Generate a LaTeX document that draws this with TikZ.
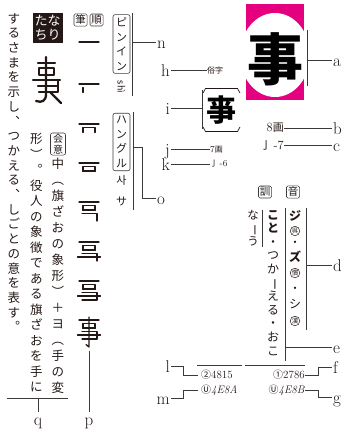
\documentclass[tikz,border=0pt]{standalone}
\usepackage{fontspec}
\usepackage{graphicx}
\newfontfamily\jp{Noto Sans CJK JP}
\definecolor{ink}{HTML}{231815}
\definecolor{mag}{HTML}{E4007F}
\definecolor{ln}{HTML}{3A3A3A}
\newcommand\vbar{\rotatebox[origin=c]{-90}{ー}}
\tikzset{
  lbl/.style={font=\fontsize{17}{17}\selectfont, text height=12pt, text depth=0pt, inner sep=1pt, text=ink},
  conn/.style={draw=ln, line width=0.75pt},
  vcol/.style={align=center, inner sep=0pt, anchor=north, text=ink},
  tag/.style={draw=ln, line width=0.6pt, rounded corners=1.5pt, inner sep=1.3pt, text=ink, font=\jp\fontsize{10.5}{10.5}\selectfont},
  vtag/.style={draw=ln, line width=0.6pt, rounded corners=2pt, inner xsep=3pt, inner ysep=3pt, text=ink, align=center},
  stk/.style={line width=1.3pt, line cap=round, line join=round, draw=ink},
  seal/.style={line width=2.3pt, line cap=round, line join=round, draw=ink},
  circ/.style={circle, draw=ink, line width=0.5pt, inner sep=0.3pt, text=ink, font=\jp\fontsize{6.5}{6.5}\selectfont},
  small/.style={inner sep=0pt, text=ink},
  brk/.style={line width=0.7pt, draw=ink},
}
\newcommand\StrokeStep[3]{%
  \begin{scope}[shift={(#1,#2)}]
    \draw[stk] (-10,0) -- (10,0);
    \ifnum#3>1 \draw[stk] (-6,3.5) -- (-6,8.5);\fi
    \ifnum#3>2 \draw[stk] (-6,3.5) -- (6,3.5) -- (6,8.5);\fi
    \ifnum#3>3 \draw[stk] (-6,8) -- (6,8);\fi
    \ifnum#3>4 \draw[stk] (-7,11.5) -- (8,11.5) -- (8,19);\fi
    \ifnum#3>5 \draw[stk] (-11.5,15) -- (11.5,15);\fi
    \ifnum#3>6 \draw[stk] (-7,19) -- (8,19);\fi
    \ifnum#3>7 \draw[stk] (0,-3) -- (0,27) -- (-3,24.5);\fi
  \end{scope}}
\begin{document}
\begin{tikzpicture}[x=1pt,y=-1pt]
\useasboundingbox (0,0) rectangle (349,440);

% ---------- big character ----------
\begin{scope}
  \clip (246,4) rectangle (304,100);
  \fill[mag] (246,4) rectangle (304,100);
  \fill[white] (275,55) ellipse [x radius=35, y radius=42];
\end{scope}
\node[inner sep=0pt, text=black, font=\jp\bfseries\fontsize{56}{56}\selectfont] (big) at (275,59) {事};

% ---------- letters ----------
\node[lbl, anchor=west] (a) at (332,60) {a};
\node[lbl, anchor=west] (b) at (332,128) {b};
\node[lbl, anchor=west] (c) at (332,145) {c};
\node[lbl, anchor=west] (d) at (332,265) {d};
\node[lbl, anchor=west] (e) at (332,347) {e};
\node[lbl, anchor=west] (f) at (332,367) {f};
\node[lbl, anchor=west] (g) at (332,397) {g};
\node[lbl, anchor=east] (h) at (171,70) {h};
\node[lbl, anchor=east] (i) at (171,108) {i};
\node[lbl, anchor=east] (j) at (171,149.5) {j};
\node[lbl, anchor=east] (k) at (171,164) {k};
\node[lbl, anchor=east] (l) at (171,366) {l};
\node[lbl, anchor=east] (m) at (171,398) {m};
\node[lbl, anchor=west] (n) at (156,42) {n};
\node[lbl, anchor=west] (o) at (156,198) {o};
\node[lbl, anchor=north] (p) at (89,412) {p};
\node[lbl, anchor=north] (q) at (38,412) {q};

% ---------- a ----------
\coordinate (ab1) at (307,30);
\coordinate (ab2) at (307,86);
\coordinate (abm) at (307,60);
\draw[conn] (ab1) -- (ab2);
\draw[conn] (abm) -- (a.west);

% ---------- h : zokuji ----------
\node[small, anchor=west, font=\jp\fontsize{8}{8}\selectfont] (zoku) at (207,70) {俗字};
\draw[conn] (h.east) -- (zoku.west);

% ---------- i : variant ----------
\draw[brk] (203,93) -- (205.5,88.5) -- (237.5,88.5) -- (240,93);
\draw[brk] (203,127) -- (205.5,131.5) -- (237.5,131.5) -- (240,127);
\node[inner sep=0pt, text=black, font=\jp\bfseries\fontsize{30}{30}\selectfont] (var) at (221.5,110) {亊};
\coordinate (ib1) at (202,90);
\coordinate (ib2) at (202,129);
\coordinate (ibm) at (202,108);
\draw[conn] (ib1) -- (ib2);
\draw[conn] (i.east) -- (ibm);

% ---------- b, c ----------
\node[small, anchor=east, font=\fontsize{12.5}{12.5}\selectfont] (kaku8) at (284,128) {8{\jp\fontsize{11}{11}\selectfont 画}};
\draw[conn] (kaku8.east) -- (b.west);
\node[small, anchor=east, font=\fontsize{12.5}{12.5}\selectfont] (bu7) at (284,145) {{\jp\fontsize{11}{11}\selectfont 亅}\,-7};
\draw[conn] (bu7.east) -- (c.west);

% ---------- j, k ----------
\node[small, anchor=west, font=\fontsize{9}{9}\selectfont] (kaku7) at (210,149.5) {7{\jp\fontsize{8}{8}\selectfont 画}};
\draw[conn] (j.east) -- (kaku7.west);
\node[small, anchor=west, font=\fontsize{9}{9}\selectfont] (bu6) at (210,164) {{\jp\fontsize{8}{8}\selectfont 亅}\,-6};
\draw[conn] (k.east) -- (bu6.west);

% ---------- readings ----------
\node[tag] (kunlab) at (265,192) {訓};
\node[tag] (onlab) at (293,192) {音};
\node[vcol, font=\jp\fontsize{11.5}{13}\selectfont] (nau) at (253,210) {な\\\vbar\\う};
\node[vcol, font=\jp\fontsize{12}{13.6}\selectfont] (kuncol) at (273,210) {{\bfseries こ}\\{\bfseries と}\\・\\つ\\か\\\vbar\\え\\る\\・\\お\\こ};
\node[small, font=\jp\bfseries\fontsize{12}{12}\selectfont] (ji) at (295,216) {ジ};
\node[circ] (go) at (295,231) {呉};
\node[small, font=\jp\fontsize{11}{11}\selectfont] (dot1) at (295,244) {・};
\node[small, font=\jp\bfseries\fontsize{12}{12}\selectfont] (zu) at (295,257) {ズ};
\node[circ] (kanyo) at (295,273) {慣};
\node[small, font=\jp\fontsize{11}{11}\selectfont] (dot2) at (295,290) {・};
\node[small, font=\jp\fontsize{12}{12}\selectfont] (shi2) at (295,304) {シ};
\node[circ] (kanon) at (295,321) {漢};
\coordinate (s1t) at (262,210); \coordinate (s1b) at (262,247);
\coordinate (s2t) at (285,208); \coordinate (s2b) at (285,361);
\coordinate (s3t) at (306,208); \coordinate (s3b) at (306,330);
\coordinate (dm) at (306,265); \coordinate (em) at (285,347);
\draw[conn] (s1t) -- (s1b);
\draw[conn] (s2t) -- (s2b);
\draw[conn] (s3t) -- (s3b);
\draw[conn] (dm) -- (d.west);
\draw[conn] (em) -- (e.west);

% ---------- codes ----------
\coordinate (ol1a) at (197,365); \coordinate (ol1b) at (242,365);
\coordinate (ol2a) at (245,365); \coordinate (ol2b) at (305,365);
\draw[conn] (ol1a) -- (ol1b);
\draw[conn] (ol2a) -- (ol2b);
\node[small, anchor=west, font=\fontsize{11}{11}\selectfont] (jis2) at (201,375) {{\jp\fontsize{10}{10}\selectfont ②}4815};
\node[small, anchor=west, font=\fontsize{11}{11}\selectfont] (uni1) at (201,390) {{\jp\fontsize{10}{10}\selectfont Ⓤ}\textit{4E8A}};
\node[small, anchor=east, font=\fontsize{11}{11}\selectfont] (jis1) at (305,375) {{\jp\fontsize{10}{10}\selectfont ①}2786};
\node[small, anchor=east, font=\fontsize{11}{11}\selectfont] (uni2) at (305,390) {{\jp\fontsize{10}{10}\selectfont Ⓤ}\textit{4E8B}};
\draw[conn] (l.east) -- ++(12,0) |- ([xshift=-3pt]jis2.west);
\draw[conn] (m.east) -- ++(12,0) |- ([xshift=-3pt]uni1.west);
\draw[conn] (jis1.east) -- ++(13,0) |- (f.west);
\draw[conn] (uni2.east) -- ++(13,0) |- (g.west);

% ---------- pinyin / hangul ----------
\node[vtag, font=\jp\fontsize{11}{14.5}\selectfont] (pin) at (121.5,44) {ピ\\ン\\イ\\ン};
\node[small, rotate=-90, font=\sffamily\fontsize{11}{11}\selectfont] (shi) at (121.5,87) {shì};
\coordinate (pl1) at (132,13); \coordinate (pl2) at (132,96); \coordinate (plm) at (132,42);
\draw[conn] (pl1) -- (pl2);
\draw[conn] (plm) -- (n.west);
\node[vtag, font=\jp\fontsize{11}{14.5}\selectfont] (han) at (121.5,142) {ハ\\ン\\グ\\ル};
\node[small, font=\jp\fontsize{11}{11}\selectfont] (sa1) at (121.5,180) {사};
\node[small, font=\jp\fontsize{11}{11}\selectfont] (sa2) at (121.5,201) {サ};
\coordinate (hl1) at (133,112); \coordinate (hl2) at (133,210); \coordinate (hlm) at (133,147);
\draw[conn] (hl1) -- (hl2);
\draw[conn] (hlm) -- (142,147) |- (o.west);

% ---------- stroke order ----------
\node[tag] (hitsu) at (80.5,20) {筆};
\node[tag] (jun) at (96.5,20) {順};
\StrokeStep{89}{42}{1}
\StrokeStep{89}{84}{2}
\StrokeStep{89}{124}{3}
\StrokeStep{89}{163}{4}
\StrokeStep{89}{202}{5}
\StrokeStep{89}{242}{6}
\StrokeStep{89}{281}{7}
\StrokeStep{89}{320}{8}
\coordinate (pe) at (89,351);
\draw[conn] (pe) -- (p.north);

% ---------- naritachi ----------
\node[fill=ink, text=white, inner sep=2pt, align=center, font=\jp\fontsize{13}{14}\selectfont] (nari) at (47.5,28) {たな\\ちり};
\draw[seal] (46,57) -- (46,94) .. controls (46,101) and (42,103) .. (36,101);
\draw[seal] (38,63) -- (55,63);
\draw[seal] (39,68) rectangle (54,75);
\draw[seal] (33,80) -- (60,80);
\draw[seal] (38,86) -- (58,86) -- (58,80);
\draw[seal] (39,92) -- (58,92) -- (58,86);
\draw[seal] (50,92) -- (61,103);

\node[vtag, font=\jp\fontsize{10}{11}\selectfont, inner xsep=2.5pt, inner ysep=1pt] (kaii) at (58,144) {会\\意};
\node[vcol, font=\jp\fontsize{12.5}{16}\selectfont] (col1) at (58,158) {中\\︵\\旗\\ざ\\お\\の\\象\\形\\︶\\＋\\ヨ\\︵\\手\\の\\変};
\node[vcol, font=\jp\fontsize{12.5}{15.5}\selectfont] (col2) at (36.5,133) {形\\︶\\︒\\役\\人\\の\\象\\徴\\で\\あ\\る\\旗\\ざ\\お\\を\\手\\に};
\node[vcol, font=\jp\fontsize{12.5}{14.7}\selectfont] (col3) at (14,13) {す\\る\\さ\\ま\\を\\示\\し\\︑\\つ\\か\\え\\る\\︑\\し\\ご\\と\\の\\意\\を\\表\\す\\︒};
\coordinate (ul1) at (7,398); \coordinate (ul2) at (68,398); \coordinate (ulm) at (38,398);
\draw[conn] (ul1) -- (ul2);
\draw[conn] (ulm) -- (q.north);
\end{tikzpicture}
\end{document}
